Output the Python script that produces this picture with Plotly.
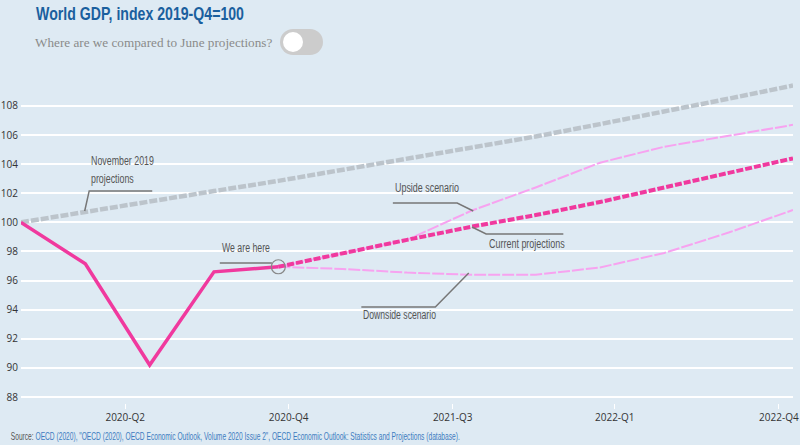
import plotly.graph_objects as go

# ---------------- data ----------------
quarters = ["2019-Q4", "2020-Q1", "2020-Q2", "2020-Q3", "2020-Q4", "2021-Q1", "2021-Q2",
            "2021-Q3", "2021-Q4", "2022-Q1", "2022-Q2", "2022-Q3", "2022-Q4"]
idx = list(range(len(quarters)))

nov2019 = [100.0, 100.74, 101.45, 102.15, 102.85, 103.6, 104.35, 105.1, 105.9, 106.75, 107.6, 108.5, 109.4]
actual = [100.0, 97.15, 90.2, 96.6, 96.95]
current = [96.95, 97.9, 98.8, 99.7, 100.5, 101.4, 102.4, 103.4, 104.4]
upside = [96.95, 97.9, 98.8, 100.8, 102.4, 104.1, 105.2, 105.95, 106.7]
downside = [96.95, 96.8, 96.55, 96.4, 96.4, 96.9, 97.9, 99.3, 100.85]

tick_labels = ["2020-Q2", "2020-Q4", "2021-Q3", "2022-Q1", "2022-Q4"]
tick_pos = [1.62, 4.16, 6.71, 9.23, 11.78]
y_ticks = [88, 90, 92, 94, 96, 98, 100, 102, 104, 106, 108]

# ---------------- style ----------------
BG = "#deeaf3"
PINK = "#f0399e"
LIGHT_PINK = "#f7a3f0"
GREY_LINE = "#bcc4cb"
LEADER = "#777777"
SANS = "Liberation Sans, Arial, sans-serif"

W, H = 800, 445
ML, MR, MT, MB = 21, 7, 71, 42
YMIN, YMAX = 87.59, 110.4

fig = go.Figure()
proj_x = idx[4:]

fig.add_trace(go.Scatter(x=idx, y=nov2019, mode="lines",
                         line=dict(color=GREY_LINE, width=4.5, dash="8px,2px"), hoverinfo="skip"))
fig.add_trace(go.Scatter(x=proj_x, y=upside, mode="lines",
                         line=dict(color=LIGHT_PINK, width=2, dash="12px,2px"), hoverinfo="skip"))
fig.add_trace(go.Scatter(x=proj_x, y=downside, mode="lines",
                         line=dict(color=LIGHT_PINK, width=2, dash="12px,2px"), hoverinfo="skip"))
fig.add_trace(go.Scatter(x=proj_x, y=current, mode="lines",
                         line=dict(color=PINK, width=4, dash="7px,2px"), hoverinfo="skip"))
fig.add_trace(go.Scatter(x=idx[:len(actual)], y=actual, mode="lines",
                         line=dict(color=PINK, width=3.5), hoverinfo="skip"))

# helpers for decoration placement (pixel -> paper)
pw, ph = W - ML - MR, H - MT - MB
def px(xp):
    return (xp - ML) / pw
def py(yp):
    return (H - MB - yp) / ph

ann_font = dict(family=SANS, size=13.5, color="#555555")

def label(x, y, text):
    fig.add_annotation(x=x, y=y, xref="x", yref="y", text=text, showarrow=False,
                       xanchor="left", yanchor="middle", align="left", font=ann_font)

def leader(xs, ys):
    fig.add_trace(go.Scatter(x=xs, y=ys, mode="lines", line=dict(color=LEADER, width=1.5),
                             hoverinfo="skip"))

label(1.06, 103.64, "November 2019<br>projections")
leader([2.04, 1.06, 0.99], [102.16, 102.16, 100.78])

label(5.78, 102.43, "Upside scenario")
leader([5.78, 6.78, 7.03], [101.33, 101.33, 100.78])

label(7.24, 98.58, "Current projections")
leader([7.01, 7.23, 8.43], [99.68, 99.2, 99.2])

label(3.09, 98.24, "We are here")
leader([3.09, 3.9], [97.21, 97.21])

label(5.29, 93.64, "Downside scenario")
leader([5.29, 6.44, 6.96], [94.19, 94.19, 96.52])

# circle at "we are here"
rx, ry = 7 / (pw / 12), 7 / (ph / (YMAX - YMIN))
fig.add_shape(type="circle", xref="x", yref="y", x0=4 - rx, x1=4 + rx,
              y0=actual[-1] - ry, y1=actual[-1] + ry, line=dict(color="#888888", width=1.2))

# title & subtitle
fig.add_annotation(x=px(34), y=py(13), xref="paper", yref="paper", showarrow=False,
                   xanchor="left", yanchor="middle", text="<b>World GDP, index 2019-Q4=100</b>",
                   font=dict(family=SANS, size=19, color="#1a5f9e"))
fig.add_annotation(x=px(33), y=py(42), xref="paper", yref="paper", showarrow=False,
                   xanchor="left", yanchor="middle", text="Where are we compared to June projections?",
                   font=dict(family="Liberation Serif, serif", size=13.2, color="#8a8a8a"))

# toggle switch
TG = "#cccccc"
fig.add_shape(type="circle", xref="paper", yref="paper", x0=px(280), x1=px(306), y0=py(55), y1=py(29),
              fillcolor=TG, line=dict(width=0), layer="above")
fig.add_shape(type="circle", xref="paper", yref="paper", x0=px(297), x1=px(323), y0=py(55), y1=py(29),
              fillcolor=TG, line=dict(width=0), layer="above")
fig.add_shape(type="rect", xref="paper", yref="paper", x0=px(293), x1=px(310), y0=py(55), y1=py(29),
              fillcolor=TG, line=dict(width=0), layer="above")
fig.add_shape(type="circle", xref="paper", yref="paper", x0=px(283), x1=px(303), y0=py(52), y1=py(32),
              fillcolor="white", line=dict(width=0), layer="above")

# source
fig.add_annotation(x=px(8), y=py(436), xref="paper", yref="paper", showarrow=False,
                   xanchor="left", yanchor="middle",
                   text="<span style='color:#555555'>Source: </span>OECD (2020), \"OECD (2020), OECD Economic Outlook, "
                        "Volume 2020 Issue 2\", OECD Economic Outlook: Statistics and Projections (database).",
                   font=dict(family=SANS, size=10.5, color="#3d7cc0"))

fig.update_layout(
    width=W, height=H, paper_bgcolor=BG, plot_bgcolor=BG,
    margin=dict(l=ML, r=MR, t=MT, b=MB, autoexpand=False), showlegend=False,
    xaxis=dict(range=[0, 12], tickvals=tick_pos, ticktext=tick_labels, showgrid=False,
               zeroline=False, showline=False, ticks="outside", ticklen=5, tickwidth=1,
               tickcolor="white", automargin=False,
               tickfont=dict(family="Open Sans, sans-serif", size=10, color="#333333")),
    yaxis=dict(range=[YMIN, YMAX], tickvals=y_ticks, showgrid=True, gridcolor="white",
               gridwidth=1.5, zeroline=False, showline=False, ticks="", ticklabelstandoff=2,
               automargin=False,
               tickfont=dict(family="Open Sans, sans-serif", size=10, color="#333333")),
)

# condensed look for the annotation texts (target text widths in px, by annotation index)
post = """
(function(){
  document.body.style.margin = '0';
  var targets = {0: 63, 1: 64, 2: 76, 3: 48, 4: 73, 5: 208, 7: 450};
  function fix(){
    for (var k in targets){
      var t = document.querySelector('.annotation[data-index="' + k + '"] text.annotation-text');
      if (!t) continue;
      t.style.transform = 'none';
      var w = t.getBBox().width;
      if (w > 0){
        t.style.transformBox = 'fill-box';
        t.style.transformOrigin = '0% 50%';
        t.style.transform = 'scaleX(' + (targets[k] / w) + ')';
      }
    }
  }
  fix();
  setTimeout(fix, 50);
})();
"""

fig.write_html("out.html", post_script=post, config={"displayModeBar": False})
